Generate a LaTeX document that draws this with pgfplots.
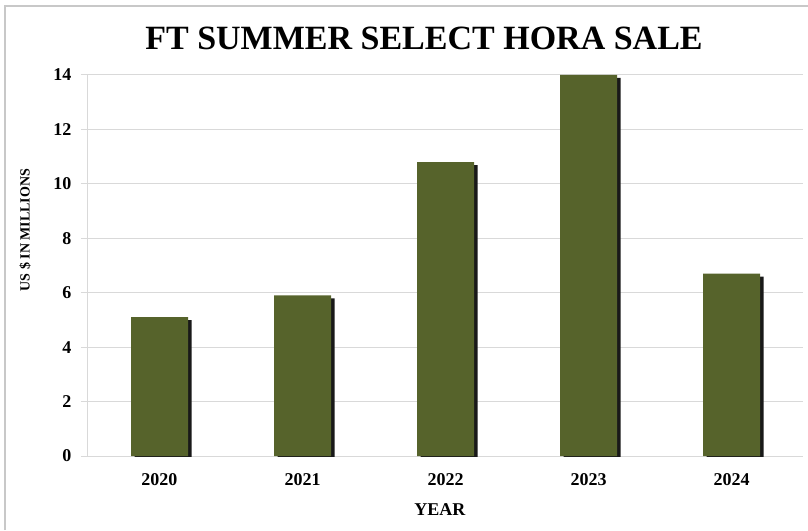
\documentclass[border=0pt]{standalone}
\usepackage{fontspec}
\setmainfont{Liberation Serif}
\usepackage{pgfplots}
\pgfplotsset{compat=1.18}
\definecolor{olivebar}{RGB}{86,99,43}
\definecolor{gridgray}{RGB}{217,217,217}
\definecolor{framegray}{RGB}{200,200,200}
\begin{document}
\begin{tikzpicture}[x=1pt,y=1pt]
\useasboundingbox (0,0) rectangle (808,530);
\draw[framegray, line width=1.5pt] (5,0) -- (5,524) -- (808,524);
\node[font=\bfseries\fontsize{34}{34}\selectfont] at (424,492) {FT SUMMER SELECT HORA SALE};
\begin{axis}[
  at={(88pt,74pt)}, anchor=south west,
  scale only axis, width=715pt, height=381pt,
  ybar, bar width=57pt,
  xmin=-0.5, xmax=4.5,
  xtick=data, xticklabels={2020,2021,2022,2023,2024},
  ymin=0, ymax=14, ytick={0,2,...,14},
  axis lines*=left,
  axis line style={-, gridgray, line width=1pt},
  ymajorgrids, grid style={gridgray, line width=1pt},
  tick align=outside, major tick length=7pt,
  ytick style={gridgray, line width=1pt},
  xtick style={draw=none},
  /pgf/number format/assume math mode=true,
  tick label style={font=\bfseries\fontsize{18}{18}\selectfont},
  yticklabel style={xshift=-6pt},
  xticklabel style={yshift=-7pt},
  xlabel={YEAR},
  xlabel style={font=\bfseries\fontsize{18}{18}\selectfont, at={(axis description cs:0.492,0)}, anchor=center, yshift=-54pt},
  ylabel={US \$ IN MILLIONS},
  ylabel style={font=\bfseries\fontsize{14}{14}\selectfont, at={(axis description cs:-0.088,0.593)}, anchor=center},
]
\addplot[fill=olivebar, draw=none,
  preaction={fill=black!90, draw=none, transform canvas={shift={(3.5pt,-3pt)}}}]
  coordinates {(0,5.1) (1,5.9) (2,10.8) (3,14.0) (4,6.7)};
\end{axis}
\end{tikzpicture}
\end{document}
